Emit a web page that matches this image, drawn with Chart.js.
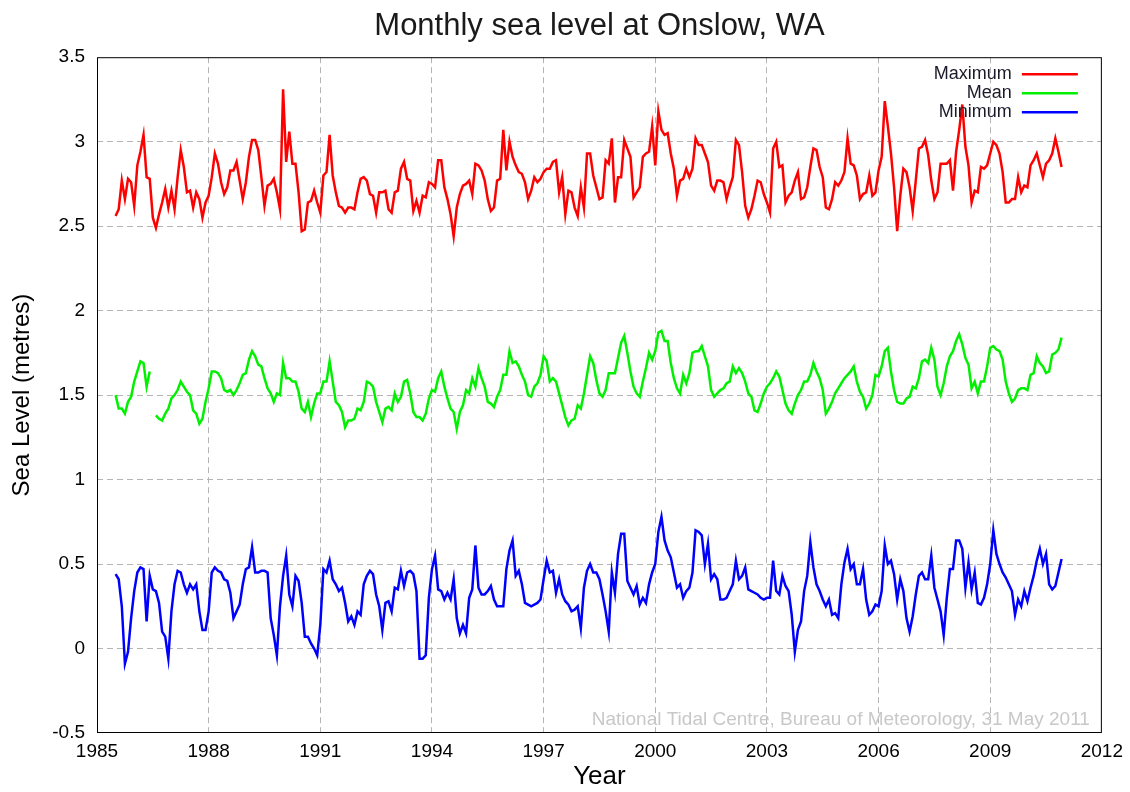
<!DOCTYPE html>
<html>
<head>
<meta charset="utf-8">
<title>Monthly sea level at Onslow, WA</title>
<script src="https://cdn.jsdelivr.net/npm/chart.js@4.4.1/dist/chart.umd.min.js"></script>
<style>
  html, body { margin: 0; padding: 0; background: #fff; }
  canvas { display: block; }
</style>
</head>
<body>
<canvas id="seaChart" width="1130" height="792"></canvas>
<script>
// first value is July 1985, one value per month
const startYear = 1985;
const startMonth = 7;

const maxLevel = [
  2.56,2.60,2.77,2.66,2.78,2.76,2.62,2.86,2.94,3.04,2.79,2.78,2.55,2.49,2.57,2.64,2.72,2.61,2.71,2.60,2.79,2.95,2.85,2.70,
  2.71,2.61,2.70,2.66,2.55,2.64,2.68,2.79,2.93,2.87,2.76,2.69,2.73,2.83,2.83,2.88,2.77,2.66,2.76,2.91,3.01,3.01,2.95,2.79,2.62,2.74,
  2.75,2.78,2.70,2.60,3.31,2.88,3.06,2.87,2.87,2.70,2.47,2.48,2.64,2.65,2.71,2.64,2.58,2.80,2.82,3.04,2.80,2.70,2.62,2.61,2.58,2.61,
  2.61,2.60,2.70,2.78,2.79,2.77,2.69,2.68,2.58,2.70,2.70,2.71,2.60,2.58,2.70,2.71,2.84,2.88,2.78,2.77,2.59,2.65,2.58,2.68,2.67,
  2.76,2.75,2.73,2.89,2.89,2.73,2.66,2.57,2.44,2.61,2.69,2.74,2.75,2.77,2.69,2.87,2.86,2.83,2.77,2.66,2.59,2.61,2.77,2.78,3.07,2.83,
  3.00,
  2.91,2.86,2.82,2.81,2.76,2.66,2.71,2.79,2.76,2.78,2.82,2.84,2.84,2.88,2.89,2.70,2.79,2.57,2.71,2.70,2.61,2.56,2.73,2.61,
  2.93,
  2.93,2.80,2.73,2.66,2.67,2.89,2.87,3.02,2.64,2.79,2.79,3.01,2.96,2.91,2.67,2.70,2.73,2.91,2.93,2.94,3.09,2.86,3.18,3.07,3.04,
  3.05,
  2.93,2.84,2.68,2.77,2.78,2.84,2.79,2.84,3.02,2.98,2.98,2.93,2.88,2.74,2.71,2.77,2.77,2.76,2.66,2.73,2.79,3.01,2.98,2.82,2.62,2.55,
  2.60,2.68,2.77,2.76,2.69,2.64,2.58,2.96,3.00,2.85,2.86,2.64,2.68,2.70,2.77,2.82,2.66,2.67,2.73,2.85,2.96,2.95,2.85,2.79,2.61,2.60,
  2.66,2.76,2.74,2.77,2.82,3.02,2.87,2.86,2.80,2.66,2.69,2.70,2.80,2.68,2.70,2.83,2.91,3.24,3.09,2.93,2.73,2.47,2.68,2.84,2.82,
  2.73,2.59,2.77,2.96,2.97,3.01,2.92,2.77,2.66,2.70,2.87,2.87,2.87,2.89,2.71,2.94,3.07,3.22,2.97,2.86,2.64,2.71,2.70,2.85,2.84,2.86,
  2.93,3.00,2.98,2.93,2.82,2.64,2.64,2.66,2.66,2.79,2.70,2.74,2.73,2.86,2.89,2.93,2.86,2.79,2.87,2.89,2.93,3.02,2.94,2.85
];

const meanLevel = [
  1.50,1.42,1.42,1.39,1.46,1.49,1.58,1.64,1.70,1.69,1.55,1.64,null,1.38,1.36,1.35,1.39,1.42,1.48,1.50,1.53,1.58,1.55,1.52,
  1.50,1.41,1.39,1.33,1.36,1.46,1.54,1.64,1.64,1.63,1.60,1.53,1.52,1.53,1.50,1.53,1.57,1.62,1.63,1.71,1.76,1.73,1.68,1.67,1.60,1.54,
  1.51,1.46,1.51,1.50,1.69,1.60,1.60,1.58,1.58,1.52,1.42,1.40,1.46,1.37,1.45,1.51,1.51,1.58,1.58,1.70,1.58,1.46,1.44,1.40,1.31,1.35,
  1.35,1.36,1.42,1.41,1.46,1.58,1.57,1.55,1.46,1.40,1.34,1.42,1.43,1.41,1.51,1.46,1.49,1.58,1.59,1.51,1.40,1.37,1.37,1.35,1.39,
  1.48,1.53,1.52,1.60,1.64,1.55,1.48,1.42,1.40,1.30,1.40,1.44,1.53,1.51,1.60,1.55,1.66,1.60,1.55,1.46,1.45,1.43,1.49,1.53,1.62,1.62,
  1.76,
  1.69,1.70,1.67,1.62,1.58,1.50,1.49,1.55,1.57,1.62,1.73,1.70,1.58,1.60,1.58,1.51,1.44,1.37,1.32,1.35,1.36,1.44,1.42,1.51,
  1.62,
  1.73,1.69,1.59,1.51,1.49,1.53,1.63,1.63,1.63,1.72,1.81,1.85,1.75,1.64,1.55,1.51,1.49,1.58,1.66,1.75,1.71,1.76,1.87,1.88,1.82,
  1.82,
  1.69,1.60,1.54,1.51,1.62,1.57,1.63,1.75,1.76,1.76,1.79,1.73,1.67,1.53,1.49,1.51,1.53,1.54,1.57,1.58,1.67,1.63,1.66,1.63,1.58,1.51,
  1.49,1.41,1.40,1.45,1.51,1.55,1.57,1.60,1.64,1.61,1.53,1.45,1.41,1.39,1.45,1.50,1.53,1.58,1.58,1.62,1.69,1.64,1.60,1.53,1.39,1.42,
  1.46,1.51,1.54,1.57,1.60,1.62,1.64,1.67,1.58,1.52,1.49,1.42,1.45,1.50,1.62,1.61,1.67,1.76,1.78,1.64,1.53,1.46,1.45,1.45,1.48,
  1.49,1.55,1.54,1.60,1.70,1.71,1.69,1.78,1.71,1.55,1.50,1.57,1.67,1.73,1.76,1.82,1.86,1.80,1.72,1.68,1.54,1.58,1.51,1.58,1.58,1.67,
  1.78,1.79,1.77,1.76,1.71,1.58,1.51,1.46,1.48,1.53,1.54,1.54,1.53,1.62,1.63,1.73,1.69,1.67,1.63,1.64,1.74,1.75,1.77,1.84
];

const minLevel = [
  0.44,0.41,0.25,-0.09,-0.02,0.18,0.34,0.45,0.48,0.47,0.16,0.43,0.35,0.34,0.27,0.10,0.07,-0.06,0.22,0.38,0.46,0.45,0.38,0.33,
  0.38,0.35,0.38,0.22,0.11,0.11,0.22,0.45,0.48,0.46,0.45,0.41,0.40,0.33,0.18,0.22,0.26,0.38,0.47,0.48,0.60,0.45,0.45,0.46,0.46,0.45,
  0.18,0.08,-0.04,0.25,0.43,0.55,0.32,0.25,0.43,0.40,0.27,0.07,0.07,0.03,0.00,-0.04,0.14,0.47,0.45,0.52,0.41,0.38,0.34,0.36,0.27,0.16,
  0.19,0.14,0.22,0.20,0.38,0.43,0.46,0.44,0.32,0.25,0.11,0.27,0.28,0.22,0.36,0.35,0.46,0.37,0.45,0.46,0.44,0.34,-0.06,-0.06,-0.04,
  0.30,0.47,0.55,0.35,0.34,0.29,0.33,0.29,0.41,0.18,0.09,0.14,0.09,0.30,0.35,0.61,0.36,0.32,0.32,0.34,0.37,0.29,0.25,0.25,0.25,0.47,
  0.58,
  0.64,0.43,0.46,0.38,0.27,0.26,0.25,0.26,0.27,0.29,0.41,0.52,0.45,0.46,0.33,0.41,0.32,0.28,0.26,0.22,0.23,0.25,0.12,0.36,
  0.46,
  0.50,0.45,0.45,0.41,0.32,0.22,0.10,0.45,0.33,0.56,0.68,0.68,0.40,0.36,0.32,0.37,0.26,0.30,0.27,0.38,0.45,0.50,0.69,0.78,0.64,
  0.58,
  0.54,0.45,0.36,0.38,0.30,0.34,0.36,0.45,0.70,0.69,0.67,0.50,0.62,0.41,0.44,0.41,0.29,0.29,0.30,0.34,0.38,0.52,0.41,0.43,0.48,0.35,
  0.34,0.33,0.32,0.30,0.29,0.30,0.30,0.52,0.34,0.32,0.43,0.37,0.34,0.20,-0.02,0.11,0.16,0.34,0.43,0.63,0.48,0.38,0.34,0.29,0.25,0.29,
  0.20,0.21,0.18,0.38,0.51,0.59,0.47,0.50,0.38,0.38,0.47,0.29,0.20,0.22,0.26,0.25,0.34,0.61,0.50,0.52,0.44,0.29,0.41,0.34,0.18,
  0.10,0.19,0.32,0.43,0.45,0.41,0.41,0.55,0.36,0.29,0.22,0.08,0.30,0.47,0.47,0.64,0.64,0.59,0.36,0.51,0.35,0.45,0.27,0.26,0.30,0.38,
  0.50,0.70,0.56,0.50,0.45,0.42,0.38,0.34,0.20,0.29,0.25,0.34,0.28,0.36,0.43,0.52,0.59,0.50,0.56,0.38,0.35,0.37,0.45,0.53
];

const seriesNames = ['Maximum', 'Mean', 'Minimum'];
const seriesColors = ['#ff0000', '#00f000', '#0000ff'];
const creditText = 'National Tidal Centre, Bureau of Meteorology, 31 May 2011';

const fontFamily = '"Liberation Sans", Arial, Helvetica, sans-serif';

function toPoints(values) {
  return values.map((v, i) => ({ x: startYear + (startMonth - 1 + i) / 12, y: v }));
}

// grid lines only inside the frame, not on its edges
function gridColor(ctx) {
  const scale = ctx.scale;
  if (!ctx.tick) return 'rgba(0,0,0,0)';
  if (ctx.tick.value === scale.min || ctx.tick.value === scale.max) return 'rgba(0,0,0,0)';
  return '#b4b4b4';
}

// frame, legend in the top right corner and the credit line
const decorations = {
  id: 'decorations',
  afterDatasetsDraw(chart) {
    const { ctx, chartArea } = chart;
    ctx.save();
    ctx.strokeStyle = '#000';
    ctx.lineWidth = 1;
    ctx.strokeRect(chartArea.left + 0.5, chartArea.top + 0.5,
      chartArea.right - chartArea.left - 1, chartArea.bottom - chartArea.top - 1);

    ctx.font = '18px ' + fontFamily;
    ctx.textAlign = 'right';
    ctx.textBaseline = 'middle';
    chart.data.datasets.forEach((ds, i) => {
      const y = chartArea.top + 17 + i * 19;
      ctx.fillStyle = '#1a1a2a';
      ctx.fillText(ds.label, chartArea.right - 90, y);
      ctx.strokeStyle = ds.borderColor;
      ctx.lineWidth = 2.5;
      ctx.beginPath();
      ctx.moveTo(chartArea.right - 80, y);
      ctx.lineTo(chartArea.right - 24, y);
      ctx.stroke();
    });

    ctx.font = '19px ' + fontFamily;
    ctx.fillStyle = '#c8c8c8';
    ctx.textBaseline = 'alphabetic';
    ctx.fillText(creditText, chartArea.right - 12, chartArea.bottom - 8);
    ctx.restore();
  }
};

const levels = [maxLevel, meanLevel, minLevel];

new Chart(document.getElementById('seaChart'), {
  type: 'line',
  data: {
    datasets: levels.map((values, i) => ({
      label: seriesNames[i],
      data: toPoints(values),
      borderColor: seriesColors[i],
      backgroundColor: seriesColors[i],
      borderWidth: 2.5,
      pointRadius: 0,
      tension: 0,
      spanGaps: false,
      fill: false
    }))
  },
  options: {
    responsive: false,
    animation: false,
    devicePixelRatio: 1,
    layout: { padding: { top: 0, right: 28, bottom: 0, left: 0 } },
    plugins: {
      legend: { display: false },
      tooltip: { enabled: false },
      title: {
        display: true,
        fullSize: false,
        text: 'Monthly sea level at Onslow, WA',
        color: '#1a1a1a',
        font: { family: fontFamily, size: 31, weight: 'normal' },
        padding: { top: 8, bottom: 12 }
      }
    },
    scales: {
      x: {
        type: 'linear',
        min: 1985,
        max: 2012,
        afterFit(scale) { scale.height = 59; },
        ticks: {
          stepSize: 3,
          color: '#000',
          padding: 7,
          maxRotation: 0,
          font: { family: fontFamily, size: 19 },
          callback: (v) => String(v)
        },
        grid: { color: gridColor, drawTicks: false, lineWidth: 1 },
        border: { display: false, dash: [6, 4] },
        title: {
          display: true,
          text: 'Year',
          color: '#000',
          font: { family: fontFamily, size: 26 },
          padding: { top: 0, bottom: 0 }
        }
      },
      y: {
        min: -0.5,
        max: 3.5,
        afterFit(scale) { scale.width = 97; },
        ticks: {
          stepSize: 0.5,
          color: '#000',
          padding: 12,
          font: { family: fontFamily, size: 19 },
          callback: (v) => String(Number(v.toFixed(1)))
        },
        grid: { color: gridColor, drawTicks: false, lineWidth: 1 },
        border: { display: false, dash: [6, 4] },
        title: {
          display: true,
          text: 'Sea Level (metres)',
          color: '#000',
          font: { family: fontFamily, size: 24 },
          padding: { top: 8, bottom: 0 }
        }
      }
    }
  },
  plugins: [decorations]
});
</script>
</body>
</html>
